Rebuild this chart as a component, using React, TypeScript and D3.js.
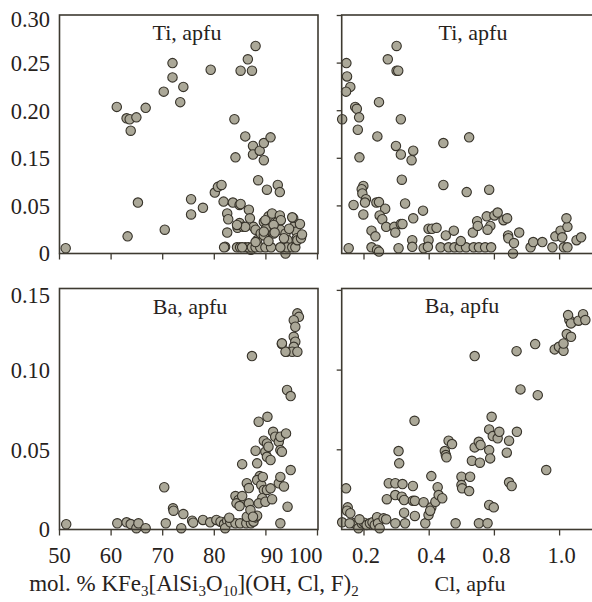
import React from 'react';
import * as d3 from 'd3';

// Ti vs mol.% annite  [x, y]
const tiMol: [number, number][] = [
  [51.2, 0.0055], [61.1, 0.204], [63.0, 0.192], [63.6, 0.191], [63.8, 0.179], [64.9, 0.193], [66.7, 0.203],
  [63.2, 0.018], [65.2, 0.057], [70.2, 0.220], [71.9, 0.250], [71.9, 0.235], [74.0, 0.225], [73.4, 0.209],
  [70.4, 0.025], [75.5, 0.064], [75.5, 0.041], [77.8, 0.048], [79.3, 0.243], [80.1, 0.078], [80.7, 0.090],
  [81.4, 0.094], [81.8, 0.059], [82.5, 0.042], [82.7, 0.036], [82.5, 0.022], [82.1, 0.007], [83.6, 0.057],
  [83.9, 0.191], [84.1, 0.151], [84.5, 0.027], [84.9, 0.052], [85.1, 0.242], [86.5, 0.254], [87.3, 0.242],
  [88.0, 0.268], [86.0, 0.173], [87.5, 0.163], [87.5, 0.154], [88.8, 0.158], [89.6, 0.166], [90.9, 0.172],
  [89.6, 0.146], [88.5, 0.104], [90.2, 0.084], [92.3, 0.094], [92.7, 0.079], [84.9, 0.032], [85.6, 0.028],
  [86.7, 0.046], [86.9, 0.037], [87.6, 0.028], [88.0, 0.025], [88.3, 0.014], [89.0, 0.021], [89.6, 0.033],
  [90.0, 0.026], [90.5, 0.039], [91.2, 0.042], [91.5, 0.021], [89.6, 0.019], [92.2, 0.033], [92.7, 0.040],
  [92.8, 0.025], [92.9, 0.035], [93.8, 0.021], [94.2, 0.014], [95.3, 0.037], [95.4, 0.028], [95.9, 0.023],
  [96.0, 0.016], [93.8, 0.0], [87.1, 0.004], [81.9, 0.0065], [84.4, 0.0065], [85.0, 0.0065], [86.0, 0.0065],
  [86.6, 0.0065], [87.3, 0.0065], [88.0, 0.0065], [88.9, 0.0065], [89.9, 0.0065], [91.0, 0.0065], [93.1, 0.0065],
  [94.1, 0.0065], [95.1, 0.0065], [95.7, 0.0065], [85.4, 0.0065], [92.8, 0.0065], [85.1, 0.054], [86.0, 0.028],
  [84.4, 0.030], [89.9, 0.035], [95.1, 0.038], [96.1, 0.014], [89.6, 0.023], [91.5, 0.030], [91.7, 0.022],
  [93.5, 0.016], [94.5, 0.026], [96.8, 0.016], [88.0, 0.012], [90.5, 0.013], [97.0, 0.020], [96.6, 0.031],
];

// Ti vs Cl
const tiCl: [number, number][] = [
  [0.133, 0.191], [0.146, 0.250], [0.148, 0.236], [0.158, 0.225], [0.145, 0.220], [0.173, 0.204], [0.178, 0.202],
  [0.185, 0.193], [0.181, 0.180], [0.186, 0.151], [0.246, 0.209], [0.241, 0.173], [0.273, 0.254], [0.300, 0.268],
  [0.300, 0.242], [0.305, 0.242], [0.313, 0.191], [0.298, 0.163], [0.313, 0.154], [0.351, 0.158], [0.346, 0.146],
  [0.316, 0.105], [0.487, 0.166], [0.645, 0.172], [0.487, 0.094], [0.630, 0.079], [0.768, 0.084], [0.168, 0.052],
  [0.198, 0.092], [0.193, 0.085], [0.195, 0.076], [0.206, 0.064], [0.203, 0.057], [0.198, 0.041], [0.238, 0.057],
  [0.246, 0.058], [0.265, 0.047], [0.248, 0.040], [0.256, 0.036], [0.268, 0.028], [0.293, 0.028], [0.296, 0.022],
  [0.313, 0.031], [0.318, 0.031], [0.326, 0.055], [0.351, 0.037], [0.381, 0.045], [0.223, 0.024], [0.235, 0.018],
  [0.223, 0.0065], [0.240, 0.004], [0.246, 0.002], [0.153, 0.0055], [0.306, 0.0055], [0.348, 0.014], [0.348, 0.007],
  [0.383, 0.0055], [0.398, 0.014], [0.396, 0.007], [0.398, 0.026], [0.417, 0.026], [0.445, 0.027], [0.502, 0.019],
  [0.551, 0.024], [0.470, 0.0065], [0.519, 0.0065], [0.555, 0.0065], [0.587, 0.0065], [0.626, 0.0065],
  [0.673, 0.0065], [0.705, 0.0065], [0.743, 0.0065], [0.780, 0.0065], [0.594, 0.013], [0.668, 0.022],
  [0.694, 0.034], [0.698, 0.029], [0.753, 0.039], [0.775, 0.029], [0.758, 0.025], [0.800, 0.040], [0.810, 0.043],
  [0.828, 0.035], [0.839, 0.037], [0.842, 0.019], [0.843, 0.016], [0.860, 0.011], [0.857, 0.0], [0.876, 0.022],
  [0.911, 0.0065], [0.919, 0.012], [0.947, 0.012], [0.978, 0.0065], [0.987, 0.018], [1.003, 0.024], [1.008, 0.017],
  [1.024, 0.028], [1.021, 0.037], [1.013, 0.0065], [1.024, 0.0065], [1.052, 0.014], [1.066, 0.017],
];

// Ba vs mol.% annite
const baMol: [number, number][] = [
  [51.3, 0.0033], [61.2, 0.0039], [63.0, 0.0045], [63.8, 0.0034], [64.9, 0.0008], [65.3, 0.0039], [66.7, 0.0008],
  [70.3, 0.0265], [70.6, 0.0039], [72.0, 0.0133], [72.1, 0.0118], [74.0, 0.0097], [73.6, 0.0008], [75.7, 0.0055],
  [75.9, 0.0043], [77.8, 0.006], [79.2, 0.0045], [80.4, 0.006], [81.2, 0.0049], [81.9, 0.0034], [82.5, 0.0055],
  [82.1, 0.0008], [83.1, 0.0045], [84.1, 0.0039], [85.0, 0.0039], [86.2, 0.0039], [87.1, 0.0039], [87.6, 0.0049],
  [92.8, 0.0039], [82.9, 0.0074], [86.3, 0.008], [88.0, 0.0076], [88.3, 0.0087], [84.1, 0.021], [84.7, 0.0185],
  [85.0, 0.0164], [84.3, 0.0164], [85.4, 0.021], [84.9, 0.0147], [85.4, 0.041], [86.3, 0.029], [86.7, 0.026],
  [86.7, 0.0164], [87.0, 0.0122], [87.5, 0.008], [87.3, 0.1088], [88.0, 0.0494], [88.3, 0.0415], [88.6, 0.0676],
  [88.8, 0.0335], [88.3, 0.031], [89.1, 0.0279], [89.6, 0.0248], [89.3, 0.0196], [88.6, 0.0164], [89.9, 0.0174],
  [89.4, 0.033], [89.6, 0.0557], [89.9, 0.0488], [90.2, 0.054], [90.5, 0.0519], [90.2, 0.0456], [90.9, 0.0436],
  [90.3, 0.0707], [91.4, 0.0613], [91.8, 0.0582], [92.5, 0.055], [92.8, 0.0498], [93.1, 0.0488], [92.8, 0.0582],
  [93.9, 0.0603], [91.2, 0.019], [92.5, 0.029], [93.5, 0.027], [92.8, 0.033], [90.2, 0.0248], [90.9, 0.0258],
  [94.2, 0.0143], [94.8, 0.0373], [93.1, 0.1163], [94.1, 0.0875], [94.8, 0.0837], [94.0, 0.1115], [95.3, 0.1125],
  [96.1, 0.1356], [96.4, 0.1334], [95.4, 0.1313], [95.7, 0.1272], [95.4, 0.1209], [95.7, 0.1178], [95.4, 0.1146],
  [95.1, 0.1115], [96.1, 0.1115], [93.8, 0.1115], [93.1, 0.1168],
];

// Ba vs Cl
const baCl: [number, number][] = [
  [0.133, 0.0045], [0.145, 0.0258], [0.150, 0.0139], [0.148, 0.0118], [0.158, 0.0102], [0.168, 0.0039],
  [0.178, 0.0028], [0.183, 0.0008], [0.193, 0.0039], [0.200, 0.0043], [0.208, 0.0028], [0.218, 0.0039],
  [0.226, 0.0045], [0.233, 0.0028], [0.240, 0.0077], [0.243, 0.0039], [0.248, 0.0008], [0.260, 0.007],
  [0.268, 0.0064], [0.156, 0.0039], [0.186, 0.0064], [0.270, 0.019], [0.276, 0.029], [0.296, 0.029],
  [0.318, 0.0285], [0.296, 0.0216], [0.316, 0.0206], [0.323, 0.0185], [0.323, 0.0105], [0.296, 0.0039],
  [0.326, 0.0039], [0.306, 0.0492], [0.308, 0.0415], [0.355, 0.0682], [0.350, 0.0273], [0.350, 0.018],
  [0.356, 0.018], [0.356, 0.0085], [0.383, 0.0171], [0.388, 0.0039], [0.398, 0.0091], [0.413, 0.0139],
  [0.413, 0.0335], [0.438, 0.0174], [0.452, 0.0265], [0.458, 0.0216], [0.480, 0.0196], [0.406, 0.0118],
  [0.496, 0.0492], [0.502, 0.0467], [0.506, 0.0453], [0.519, 0.0557], [0.540, 0.0536], [0.562, 0.0039],
  [0.598, 0.0331], [0.598, 0.0279], [0.602, 0.0258], [0.645, 0.0241], [0.651, 0.0331], [0.662, 0.0431],
  [0.679, 0.0515], [0.704, 0.055], [0.711, 0.0419], [0.715, 0.053], [0.679, 0.1088], [0.705, 0.0039],
  [0.758, 0.0039], [0.768, 0.0154], [0.796, 0.0139], [0.768, 0.0498], [0.774, 0.0446], [0.768, 0.0628],
  [0.790, 0.0586], [0.783, 0.0707], [0.810, 0.0572], [0.815, 0.0613], [0.838, 0.0482], [0.845, 0.0557],
  [0.869, 0.0613], [0.845, 0.0296], [0.853, 0.0273], [0.880, 0.0879], [0.868, 0.1119], [0.925, 0.1163],
  [0.933, 0.0843], [0.959, 0.0373], [0.985, 0.113], [0.998, 0.1146], [1.012, 0.1121], [1.012, 0.1167],
  [1.022, 0.1226], [1.035, 0.1209], [1.030, 0.1314], [1.026, 0.1345], [1.035, 0.1293], [1.058, 0.131],
  [1.072, 0.1351], [1.079, 0.1314],
];

// tick labels as printed on the original figure
const molTicks = [50, 60, 70, 80, 90, 100];
const clTicks = [0.2, 0.4, 0.8, 1.0];
const tiTicks = [0, 0.05, 0.15, 0.2, 0.25, 0.3];
const baTicks = [0, 0.05, 0.1, 0.15];

const W = 592, H = 602;
const font = '"Liberation Serif", "Times New Roman", serif';
const ink = '#27221c';
const frame = '#3e3a31';

// panel geometry
const leftX = [59.5, 318];
const rightX = [341.7, 610];
const topY = [15, 253.5];
const botY = [288.5, 529.5];

export default function App() {
  const xMol = d3.scaleLinear().domain([50, 100]).range([59.5, 317.5]);
  const xCl = d3.scaleLinear().domain(clTicks).range(clTicks.map((_, i) => 364 + i * 65.2));
  const yTi = d3.scaleLinear().domain(tiTicks).range(tiTicks.map((_, i) => 253.5 - i * 47.6));
  const yBa = d3.scaleLinear().domain([0, 0.15]).range([529.5, 290.4]);

  const box = (xs: number[], ys: number[], key: string) => (
    <rect key={key} x={xs[0]} y={ys[0]} width={xs[1] - xs[0]} height={ys[1] - ys[0]}
      fill="none" stroke={frame} strokeWidth={1.6} />
  );

  const dots = (data: [number, number][], x: any, y: any, key: string) => (
    <g key={key}>
      {data.map((d, i) => (
        <circle key={i} cx={x(d[0])} cy={y(d[1])} r={4.7} fill="#aba898" stroke="#37332a" strokeWidth={1.1} />
      ))}
    </g>
  );

  const xTickMarks = (ticks: number[], x: any, y0: number) =>
    ticks.map((t, i) => <line key={i} x1={x(t)} x2={x(t)} y1={y0} y2={y0 + 6} stroke={frame} strokeWidth={1.3} />);

  const yTickMarks = (ticks: number[], y: any, x0: number) =>
    ticks.map((t, i) => <line key={i} x1={x0 - 5} x2={x0} y1={y(t)} y2={y(t)} stroke={frame} strokeWidth={1.3} />);

  const fmt = (t: number) => (t === 0 ? '0' : d3.format('.2f')(t));

  return (
    <svg width={W} height={H} style={{ position: 'absolute', left: 0, top: 0, background: '#fff' }}
      fontFamily={font} fill={ink}>
      {/* y tick labels, left column */}
      {tiTicks.map((t, i) => (
        <text key={'ty' + i} x={50} y={yTi(t) + (i === tiTicks.length - 1 ? 4 : 0)} dy="0.35em"
          textAnchor="end" fontSize={22.5}>{fmt(t)}</text>
      ))}
      {baTicks.map((t, i) => (
        <text key={'by' + i} x={50} y={yBa(t) + (i === baTicks.length - 1 ? 5 : 0)} dy="0.35em"
          textAnchor="end" fontSize={22.5}>{fmt(t)}</text>
      ))}

      {/* tick marks */}
      {xTickMarks(molTicks, xMol, topY[1])}
      {xTickMarks(molTicks, xMol, botY[1])}
      {xTickMarks(clTicks, xCl, topY[1])}
      {xTickMarks(clTicks, xCl, botY[1])}
      {yTickMarks(tiTicks.slice(1), yTi, rightX[0])}
      {yTickMarks(baTicks.slice(1), yBa, rightX[0])}

      {/* x tick labels */}
      {molTicks.map((t, i) => (
        <text key={'mx' + i} x={xMol(t) + (t === 100 ? -12 : t === 90 ? 6 : 0)} y={563}
          textAnchor="middle" fontSize={22.5}>{t}</text>
      ))}
      {clTicks.map((t, i) => (
        <text key={'cx' + i} x={xCl(t) + 2} y={563} textAnchor="middle" fontSize={22.5}>{d3.format('.1f')(t)}</text>
      ))}

      {/* points */}
      {dots(tiMol, xMol, yTi, 'd1')}
      {dots(tiCl, xCl, yTi, 'd2')}
      {dots(baMol, xMol, yBa, 'd3')}
      {dots(baCl, xCl, yBa, 'd4')}

      {/* frames */}
      {box(leftX, topY, 'b1')}
      {box(rightX, topY, 'b2')}
      {box(leftX, botY, 'b3')}
      {box(rightX, botY, 'b4')}

      {/* panel titles */}
      <text x={187} y={40} textAnchor="middle" fontSize={22}>Ti, apfu</text>
      <text x={473} y={40} textAnchor="middle" fontSize={22}>Ti, apfu</text>
      <text x={190} y={314} textAnchor="middle" fontSize={22}>Ba, apfu</text>
      <text x={462} y={313} textAnchor="middle" fontSize={22}>Ba, apfu</text>

      {/* axis titles */}
      <text x={194} y={591} textAnchor="middle" fontSize={23}>
        mol. % KFe<tspan dy={5} fontSize={15}>3</tspan>
        <tspan dy={-5}>[AlSi</tspan><tspan dy={5} fontSize={15}>3</tspan>
        <tspan dy={-5}>O</tspan><tspan dy={5} fontSize={15}>10</tspan>
        <tspan dy={-5}>](OH, Cl, F)</tspan><tspan dy={5} fontSize={15}>2</tspan>
      </text>
      <text x={470} y={591} textAnchor="middle" fontSize={22}>Cl, apfu</text>
    </svg>
  );
}
